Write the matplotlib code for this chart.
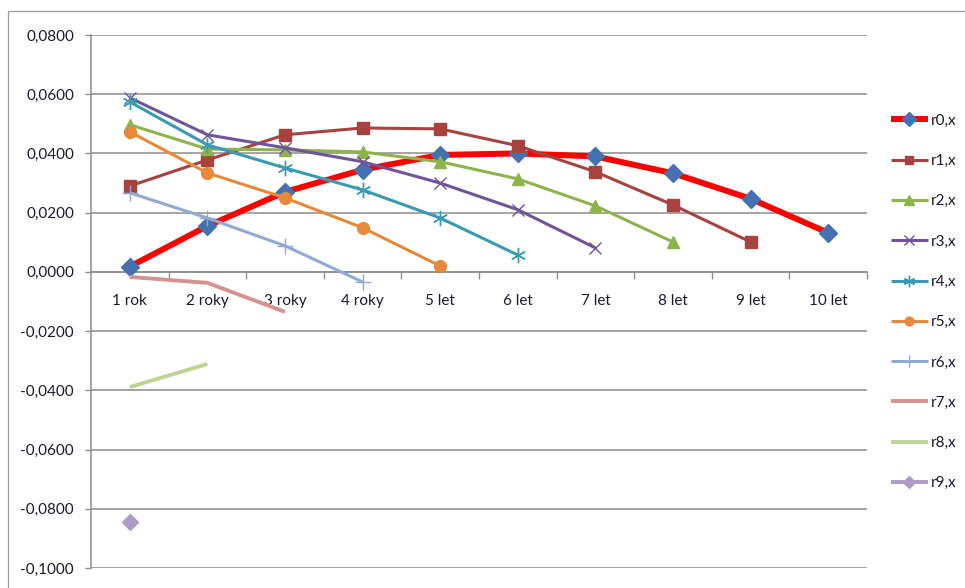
import matplotlib
matplotlib.use("Agg")
import matplotlib.pyplot as plt
from matplotlib.patches import Rectangle
from matplotlib.ticker import FixedLocator, FuncFormatter

plt.rcParams['font.family'] = ['Lato', 'DejaVu Sans']

categories = ["1 rok", "2 roky", "3 roky", "4 roky", "5 let", "6 let", "7 let", "8 let", "9 let", "10 let"]

r0 = [0.0018, 0.0155, 0.0270, 0.0345, 0.0395, 0.0400, 0.0390, 0.0333, 0.0247, 0.0132]
r1 = [0.0290, 0.0378, 0.0463, 0.0486, 0.0483, 0.0426, 0.0338, 0.0226, 0.0101]
r2 = [0.0497, 0.0415, 0.0412, 0.0405, 0.0372, 0.0314, 0.0223, 0.0101]
r3 = [0.0588, 0.0463, 0.0419, 0.0372, 0.0300, 0.0210, 0.0081]
r4 = [0.0574, 0.0429, 0.0351, 0.0277, 0.0182, 0.0057]
r5 = [0.0473, 0.0334, 0.0250, 0.0149, 0.0020]
r6 = [0.0267, 0.0182, 0.0088, -0.0034]
r7 = [-0.0017, -0.0037, -0.0135]
r8 = [-0.0389, -0.0311]
r9 = [-0.0845]

series_names = ["r0,x", "r1,x", "r2,x", "r3,x", "r4,x", "r5,x", "r6,x", "r7,x", "r8,x", "r9,x"]
series_values = [r0, r1, r2, r3, r4, r5, r6, r7, r8, r9]

y_ticks = [0.08, 0.06, 0.04, 0.02, 0.0, -0.02, -0.04, -0.06, -0.08, -0.10]

styles = [
    dict(color="#FF0000", lw=4.3, marker="D", ms=9, mfc="#4472B0", mec="#4472B0"),
    dict(color="#A8423F", lw=2.2, marker="s", ms=8.5, mfc="#A8423F", mec="#A8423F"),
    dict(color="#8DB44A", lw=2.2, marker="^", ms=9, mfc="#8DB44A", mec="#8DB44A"),
    dict(color="#6F5597", lw=2.2, marker="x", ms=9, mfc="#6F5597", mec="#6F5597", mew=1.0),
    dict(color="#3A9AB4", lw=2.2, marker=(6, 2, 0), ms=11, mfc="#3A9AB4", mec="#3A9AB4", mew=1.0),
    dict(color="#E8883A", lw=2.2, marker="o", ms=8.5, mfc="#E8883A", mec="#E8883A"),
    dict(color="#8FAAD4", lw=2.2, marker="+", ms=11, mfc="#8FAAD4", mec="#8FAAD4", mew=1.0),
    dict(color="#D69291", lw=2.8, marker=None),
    dict(color="#BDD494", lw=2.8, marker=None),
    dict(color="#AE9CC8", lw=2.8, marker="D", ms=8, mfc="#AE9CC8", mec="#AE9CC8"),
]

fig = plt.figure(figsize=(9.65, 5.88), dpi=100)
fig.patches.append(Rectangle((8 / 965, -0.1), 2, 1 - 10.5 / 588 + 0.1, transform=fig.transFigure,
                             fill=False, edgecolor="#9a9a9a", lw=0.9, zorder=0))

ax = fig.add_axes([91 / 965, 1 - 568 / 588, (867 - 91) / 965, (568 - 35) / 588])
ax.set_xlim(-0.5, 9.5)
ax.set_ylim(-0.1, 0.08)

for vals, name, st in zip(series_values, series_names, styles):
    x = list(range(len(vals)))
    ax.plot(x, vals, label=name, solid_capstyle="butt", solid_joinstyle="round", zorder=3, **st)

# y axis
ax.yaxis.set_major_locator(FixedLocator(y_ticks))
ax.yaxis.set_major_formatter(FuncFormatter(lambda v, p: ("%.4f" % (0.0 if abs(v) < 1e-12 else v)).replace(".", ",")))
ax.yaxis.grid(True, color="#8c8c8c", lw=1.1)
ax.set_axisbelow(True)
ax.tick_params(axis="y", length=4.3, width=1, color="#8c8c8c", pad=8.0, labelsize=11, labelcolor="#1a1a2a")

# x axis at zero
ax.spines["bottom"].set_position(("data", 0))
ax.spines["bottom"].set_color("#8c8c8c")
ax.spines["left"].set_color("#8c8c8c")
ax.spines["bottom"].set_linewidth(1.1)
ax.spines["left"].set_linewidth(1.1)
ax.spines["top"].set_visible(False)
ax.spines["right"].set_visible(False)
ax.set_xticks(range(len(categories)))
ax.set_xticklabels(categories)
ax.set_xticks([i + 0.5 for i in range(len(categories))], minor=True)
ax.tick_params(axis="x", which="major", length=0, pad=16, labelsize=11, labelcolor="#1a1a2a")
ax.tick_params(axis="x", which="minor", length=5, width=1, color="#8c8c8c", direction="out")

leg = fig.legend(loc="center left", bbox_to_anchor=(891 / 965, 1 - 302 / 588),
                 frameon=False, borderpad=0, borderaxespad=0, handlelength=2.4,
                 handletextpad=0.22, labelspacing=1.72, fontsize=11, numpoints=1,
                 markerscale=0.75)
for t in leg.get_texts():
    t.set_color("#1a1a2a")

fig.savefig("out.png", dpi=100)
